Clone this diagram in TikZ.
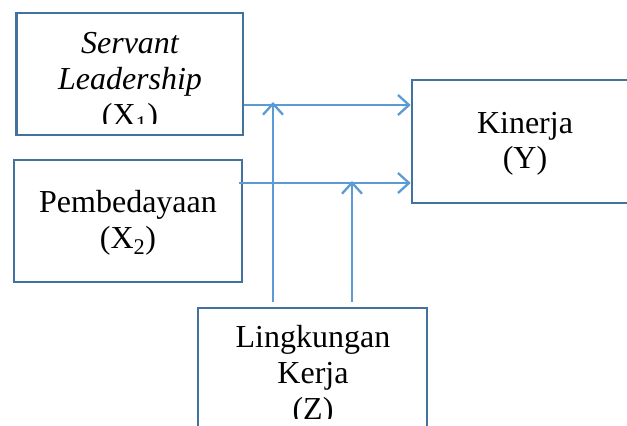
\documentclass[tikz,border=0pt]{standalone}
\usepackage{fontspec}
\setmainfont{Liberation Serif}
\usetikzlibrary{arrows.meta}
\definecolor{boxc}{RGB}{68,114,160}
\definecolor{arrc}{RGB}{91,155,213}
\tikzset{
  boxn/.style={draw=boxc, line width=2.6pt, minimum width=#1, inner sep=0pt},
  lbl/.style={anchor=base, inner sep=0pt, font=\fontsize{32}{36}\selectfont},
  arr/.style={draw=arrc, line width=2.3pt, -{Straight Barb[length=11pt,width=20pt,line width=2.3pt]}},
}
\begin{document}
\begin{tikzpicture}[x=1pt,y=-1pt]
\useasboundingbox (0,0) rectangle (627,426);
% boxes
\node[boxn=226.5pt, minimum height=122pt] (X1) at (129.75,74) {};
\node[boxn=228pt, minimum height=122pt] (X2) at (128,221) {};
\node[boxn=228pt, minimum height=123pt] (Y) at (526,141.5) {};
\node[boxn=229pt, minimum height=122pt] (Z) at (312.5,369) {};
% texts (clipped as in the source)
\begin{scope}
\clip (18,14) rectangle (242,123);
\node[lbl] (t1) at (130,53) {\itshape Servant};
\node[lbl] (t2) at (130,89) {\itshape Leadership};
\node[lbl] (t3) at (130,125) {(X\textsubscript{1})};
\end{scope}
\node[lbl] (t4) at (128,212) {Pembedayaan};
\node[lbl] (t5) at (128,248) {(X\textsubscript{2})};
\node[lbl] (t6) at (525,133) {Kinerja};
\node[lbl] (t7) at (525,168) {(Y)};
\begin{scope}
\clip (200,309) rectangle (426,418);
\node[lbl] (t8) at (313,347) {Lingkungan};
\node[lbl] (t9) at (313,383) {Kerja};
\node[lbl] (t10) at (313,419) {(Z)};
\end{scope}
% connectors
\coordinate (h1) at (0,105);
\coordinate (h2) at (0,183);
\coordinate (v1) at (273,0);
\coordinate (v2) at (352,0);
\draw[arr] (X1.east |- h1) -- (Y.west |- h1);
\draw[arr] ([xshift=-4pt]X2.east |- h2) -- (Y.west |- h2);
\draw[arr] ([yshift=5pt]Z.north -| v1) -- ([yshift=3pt]v1 |- h1);
\draw[arr] ([yshift=5pt]Z.north -| v2) -- ([yshift=2pt]v2 |- h2);
\end{tikzpicture}
\end{document}
